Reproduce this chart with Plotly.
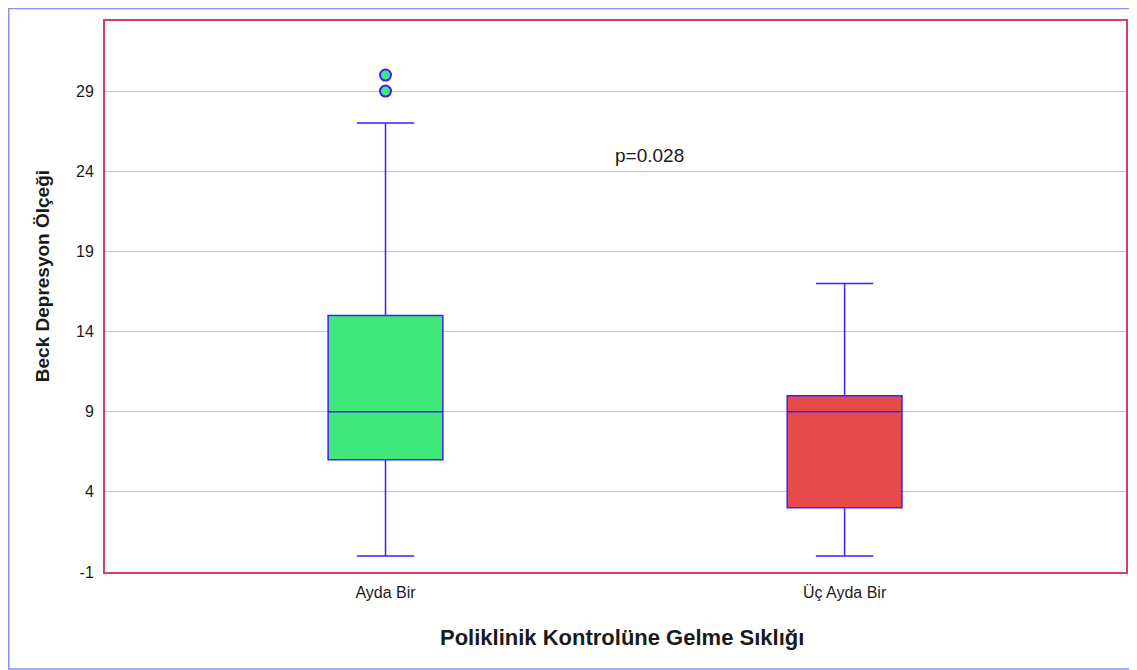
import plotly.graph_objects as go

categories = ["Ayda Bir", "Üç Ayda Bir"]
lower_whisker = [0, 0]
q1_values = [6, 3]
median_values = [9, 9]
q3_values = [15, 10]
upper_whisker = [27, 17]
box_colors = ["#40e87a", "#e84a4a"]

outlier_category = ["Ayda Bir", "Ayda Bir"]
outlier_values = [29, 30]

y_ticks = [-1, 4, 9, 14, 19, 24, 29]
y_tick_labels = ["-1", "4", "9", "14", "19", "24", "29"]
p_text = "p=0.028"
x_title = "Poliklinik Kontrolüne Gelme Sıklığı"
y_title = "Beck Depresyon Ölçeği"

line_color = "#3a22ff"
frame_color = "#dc3c64"
font_family = "Liberation Sans, Arial, sans-serif"

fig = go.Figure()
for i, cat in enumerate(categories):
    fig.add_trace(go.Box(
        x=[cat],
        q1=[q1_values[i]],
        median=[median_values[i]],
        q3=[q3_values[i]],
        lowerfence=[lower_whisker[i]],
        upperfence=[upper_whisker[i]],
        fillcolor=box_colors[i],
        line=dict(color=line_color, width=1.5),
        width=0.25,
        whiskerwidth=0.5,
        boxpoints=False,
        showlegend=False,
        hoverinfo="skip",
    ))

fig.add_trace(go.Scatter(
    x=outlier_category, y=outlier_values, mode="markers",
    marker=dict(size=11, color=box_colors[0], line=dict(color=line_color, width=2)),
    showlegend=False, hoverinfo="skip",
))

fig.add_annotation(x=0.574, y=25, xref="x", yref="y", text=p_text, showarrow=False,
                   font=dict(family=font_family, size=19, color="#1a1a1a"))

# axis titles
fig.add_annotation(x=0.506, y=-0.118, xref="paper", yref="paper", text=f"<b>{x_title}</b>",
                   showarrow=False, xanchor="center", yanchor="middle",
                   font=dict(family=font_family, size=22, color="#1a1a1a"))
fig.add_annotation(x=-0.0616, y=0.537, xref="paper", yref="paper", text=f"<b>{y_title}</b>",
                   showarrow=False, xanchor="center", yanchor="middle", textangle=-90,
                   font=dict(family=font_family, size=19, color="#1a1a1a"))

# outer frame
fig.add_shape(type="rect", xref="paper", yref="paper",
              x0=-0.0943, x1=1.0078, y0=-0.176, y1=1.0227,
              line=dict(color="#8c8cff", width=1.5), layer="below")

fig.update_layout(
    width=1129, height=662,
    margin=dict(l=97, r=9, t=13, b=98),
    paper_bgcolor="white", plot_bgcolor="white",
    font=dict(family=font_family, size=16, color="#1a1a1a"),
    xaxis=dict(
        type="category", range=[-0.611, 1.613],
        showline=True, mirror=True, linecolor=frame_color, linewidth=2,
        showgrid=False, ticks="", zeroline=False,
        tickfont=dict(size=16), ticklabelstandoff=5,
    ),
    yaxis=dict(
        range=[-1, 33.37], tickvals=y_ticks, ticktext=y_tick_labels,
        showline=True, mirror=True, linecolor=frame_color, linewidth=2,
        showgrid=True, gridcolor="#c4c4c4", gridwidth=1.2, zeroline=False, ticks="",
        tickfont=dict(size=16), ticklabelstandoff=6,
    ),
)

fig.write_html("out.html")
